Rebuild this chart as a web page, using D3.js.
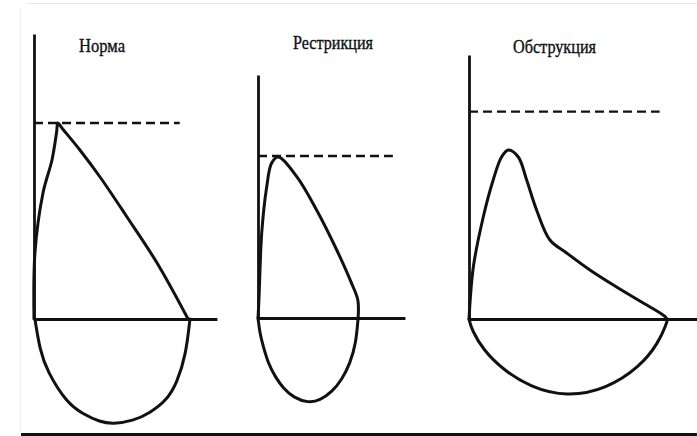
<!DOCTYPE html>
<html>
<head>
<meta charset="utf-8">
<script src="https://cdn.jsdelivr.net/npm/d3@7"></script>
<style>
  body { margin: 0; background: #fff; }
  svg { display: block; }
  .loop { fill: none; stroke: #111; stroke-width: 3; stroke-linejoin: round; stroke-linecap: round; }
  .pred { stroke: #111; stroke-width: 2.4; stroke-dasharray: 9,5; }
  .ttl { font-family: "Liberation Serif", "DejaVu Serif", serif; font-size: 18px; fill: #111; stroke: #111; stroke-width: 0.35; }
</style>
</head>
<body>
<script>
// flow-volume loops: [volume, flow]
var titles = ["Норма", "Рестрикция", "Обструкция"]

var normExp = [[0,0],[0.03,3.3],[0.29,6.3],[0.58,7.95],[0.73,9.35],[0.77,9.8],[0.9,9.55],[1.48,8.45],[2.13,7.1],[3.0,5.1],[3.97,2.8],[4.97,0]]
var normInsp = [[0.03,0],[0.19,-1.55],[0.42,-2.6],[1.06,-4.2],[1.58,-4.75],[2.13,-5.15],[2.55,-5.25],[3.19,-5.1],[3.74,-4.7],[4.29,-4.05],[4.61,-3.2],[4.9,-1.8],[5.03,0]]

var restrExp = [[0,0],[0.03,0.9],[0.12,4.25],[0.28,6.55],[0.44,7.75],[0.65,8.05],[1.25,7.07],[1.89,5.4],[2.54,3.4],[3.02,1.73],[3.22,0.9],[3.23,0]]
var restrInsp = [[0,0],[0.06,-0.77],[0.17,-1.43],[0.33,-2.27],[0.55,-2.93],[0.82,-3.52],[1.14,-3.97],[1.62,-4.25],[2.0,-4.12],[2.38,-3.7],[2.7,-3.1],[2.97,-2.27],[3.16,-1.27],[3.23,0]]

var obstrExp = [[0,0],[0.14,2.6],[0.46,5.1],[0.78,6.95],[1.05,8.1],[1.27,8.45],[1.59,8.1],[1.86,6.95],[2.18,5.45],[2.61,3.95],[3.15,3.3],[3.9,2.45],[4.76,1.6],[5.62,0.8],[6.32,0.13],[6.38,0]]
var obstrInsp = [[0,0],[0.09,-0.55],[0.46,-1.55],[1.11,-2.55],[1.97,-3.4],[3.15,-3.9],[4.44,-3.5],[5.52,-2.38],[6.11,-1.2],[6.38,-0.2],[6.4,0]]

// predicted peak flow (dashed) and where the dash stops
var predFlow = [9.8, 8.1, 10.37]
var predEnd = [4.7, 4.35, 6.15]
// axis extents
var flowTop = [14.25, 12.15, 13.2]
var volEnd = [5.9, 4.74, 7.35]

var width = 697, height = 436
var pxVol = 31, pxFlow = 20

var panels = [
  {exp: normExp, insp: normInsp, ox: 34, oy: 319, tx: 102, ty: 52, tl: 46},
  {exp: restrExp, insp: restrInsp, ox: 258, oy: 318, tx: 333, ty: 49, tl: 80},
  {exp: obstrExp, insp: obstrInsp, ox: 469, oy: 319, tx: 554.5, ty: 53, tl: 83}
]

var svg = d3.select("body").append("svg")
    .attr("width", width)
    .attr("height", height)

// slide frame
svg.append("line").attr("x1", 28).attr("x2", 697).attr("y1", 3.5).attr("y2", 3.5)
   .attr("stroke", "#e6e6e6").attr("stroke-width", 1)
svg.append("line").attr("x1", 20.5).attr("x2", 20.5).attr("y1", 8).attr("y2", 432)
   .attr("stroke", "#eeeeee").attr("stroke-width", 1)
svg.append("line").attr("x1", 21).attr("x2", 697).attr("y1", 434.5).attr("y2", 434.5)
   .attr("stroke", "#111").attr("stroke-width", 3)

panels.forEach(function(p, i) {
  var g = svg.append("g").attr("transform", "translate(" + p.ox + "," + p.oy + ")")

  var x = d3.scaleLinear().domain([0, volEnd[i]]).range([0, volEnd[i] * pxVol])
  var y = d3.scaleLinear().domain([0, flowTop[i]]).range([0, -flowTop[i] * pxFlow])

  g.append("g").call(d3.axisLeft(y).tickValues([]).tickSizeOuter(0))
  g.append("g").call(d3.axisBottom(x).tickValues([]).tickSizeOuter(0))
  g.selectAll(".domain").attr("stroke", "#111").attr("stroke-width", 2.8)

  g.append("line").attr("class", "pred")
    .attr("x1", x(0)).attr("x2", x(predEnd[i]))
    .attr("y1", y(predFlow[i])).attr("y2", y(predFlow[i]))

  var yl = d3.scaleLinear().domain([-10, 10]).range([10 * pxFlow, -10 * pxFlow])
  var line = d3.line()
      .x(function(d) { return x(d[0]) })
      .y(function(d) { return yl(d[1]) })

  // expiration passes through the read points, inspiration is smoothed
  g.append("path").attr("class", "loop").attr("d", line.curve(d3.curveCatmullRom)(p.exp))
  g.append("path").attr("class", "loop").attr("d", line.curve(d3.curveBasis)(p.insp))

  svg.append("text").attr("class", "ttl")
    .attr("x", p.tx).attr("y", p.ty)
    .attr("text-anchor", "middle")
    .attr("textLength", p.tl)
    .attr("lengthAdjust", "spacingAndGlyphs")
    .text(titles[i])
})
</script>
</body>
</html>
